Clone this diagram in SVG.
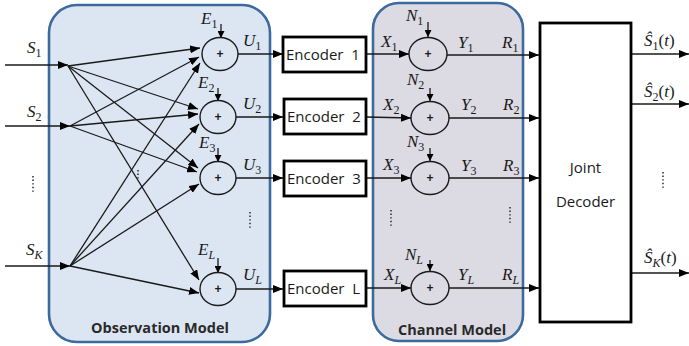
<svg xmlns="http://www.w3.org/2000/svg" width="689" height="346" viewBox="0 0 689 346">
  <style>
    .panel { stroke: #3d6a9c; stroke-width: 2.6; }
    .obs { fill: #dce6f2; }
    .chan { fill: #dcdae3; }
    .wire { stroke: #1a1a1a; stroke-width: 1.4; fill: none; }
    .fan { stroke: #1a1a1a; stroke-width: 1.3; fill: none; marker-end: url(#ah); }
    .arr { marker-end: url(#ah); }
    .sarr { stroke: #1a1a1a; stroke-width: 1.3; marker-end: url(#ahs); }
    .sum { fill: none; stroke: #1a1a1a; stroke-width: 1.4; }
    .plus { font-family: "Liberation Sans", Arial, sans-serif; font-size: 12px; font-weight: bold; fill: #1a1a1a; text-anchor: middle; }
    .box { fill: #ffffff; stroke: #000000; stroke-width: 2.8; }
    .lbl { font-family: "Open Sans", "Liberation Sans", sans-serif; font-size: 15px; fill: #1a1a1a; }
    .title { font-family: "Open Sans", "Liberation Sans", sans-serif; font-size: 14.5px; font-weight: bold; fill: #2a2a2a; text-anchor: middle; }
    .m { font-family: "Liberation Serif", "Times New Roman", serif; font-style: italic; font-size: 17px; fill: #1a1a1a; }
    .sub { font-style: normal; font-size: 12px; }
    .subi { font-size: 12px; }
    .dots { stroke: #333333; stroke-width: 1.6; stroke-dasharray: 1.4 2.2; fill: none; }
  </style>
  <defs>
    <marker id="ah" markerUnits="userSpaceOnUse" markerWidth="11" markerHeight="8" refX="10" refY="4" orient="auto">
      <path d="M0,0 L10,4 L0,8 z" fill="#000"/>
    </marker>
    <marker id="ahs" markerUnits="userSpaceOnUse" markerWidth="8" markerHeight="7" refX="7" refY="3.5" orient="auto">
      <path d="M0,0 L7,3.5 L0,7 z" fill="#000"/>
    </marker>
  </defs>

  <!-- container panels -->
  <g id="observation-model">
    <rect class="panel obs" x="49" y="5" width="221" height="337" rx="28"/>
    <text class="title" x="160" y="333">Observation Model</text>
  </g>
  <g id="channel-model">
    <rect class="panel chan" x="373" y="3" width="150" height="338" rx="26"/>
    <text class="title" x="452" y="335">Channel Model</text>
  </g>

  <!-- source inputs -->
  <g id="sources">
    <text class="m" x="27" y="53">S<tspan class="sub" dy="4">1</tspan></text>
    <text class="m" x="27" y="117">S<tspan class="sub" dy="4">2</tspan></text>
    <text class="m" x="26" y="255">S<tspan class="subi" dy="4">K</tspan></text>
    <line class="dots" x1="33" y1="176" x2="33" y2="193"/>
  </g>

  <!-- connectors -->
  <g id="connectors">
    <!-- inputs -->
    <line class="wire arr" x1="5" y1="65" x2="68" y2="65"/>
    <line class="wire arr" x1="5" y1="126" x2="70" y2="126"/>
    <line class="wire arr" x1="5" y1="266" x2="70" y2="266"/>

    <!-- observation mixing: S1 -->
    <line class="fan" x1="68" y1="66" x2="200" y2="48"/>
    <line class="fan" x1="68" y1="66" x2="198" y2="109"/>
    <line class="fan" x1="68" y1="66" x2="198" y2="168"/>
    <line class="fan" x1="68" y1="66" x2="199" y2="280"/>
    <!-- S2 -->
    <line class="fan" x1="70" y1="126" x2="199" y2="57"/>
    <line class="fan" x1="70" y1="126" x2="198" y2="114"/>
    <line class="fan" x1="70" y1="126" x2="197" y2="172"/>
    <!-- SK -->
    <line class="fan" x1="70" y1="266" x2="200" y2="63"/>
    <line class="fan" x1="70" y1="266" x2="199" y2="124"/>
    <line class="fan" x1="70" y1="266" x2="199" y2="184"/>
    <line class="fan" x1="70" y1="266" x2="199" y2="293"/>

    <!-- observation noise -->
    <line class="sarr" x1="221" y1="24" x2="221" y2="38"/>
    <line class="sarr" x1="218" y1="88" x2="218" y2="101"/>
    <line class="sarr" x1="218" y1="148" x2="218" y2="162"/>
    <line class="sarr" x1="218" y1="258" x2="218" y2="273"/>

    <!-- observations to encoders -->
    <line class="wire arr" x1="238" y1="54" x2="283" y2="54"/>
    <line class="wire arr" x1="236" y1="117" x2="283" y2="117"/>
    <line class="wire arr" x1="236" y1="178" x2="283" y2="178"/>
    <line class="wire arr" x1="236" y1="289" x2="283" y2="289"/>

    <!-- encoders to channel -->
    <line class="wire arr" x1="366" y1="54" x2="409" y2="54"/>
    <line class="wire arr" x1="366" y1="117" x2="411" y2="118"/>
    <line class="wire arr" x1="366" y1="178" x2="411" y2="178"/>
    <line class="wire arr" x1="366" y1="288" x2="411" y2="288"/>

    <!-- channel noise -->
    <line class="sarr" x1="428" y1="22" x2="428" y2="37"/>
    <line class="sarr" x1="430" y1="88" x2="430" y2="101"/>
    <line class="sarr" x1="430" y1="148" x2="430" y2="161"/>
    <line class="sarr" x1="430" y1="260" x2="430" y2="271"/>

    <!-- channel outputs to decoder -->
    <line class="wire arr" x1="447" y1="55" x2="539" y2="55"/>
    <line class="wire arr" x1="449" y1="118" x2="539" y2="118"/>
    <line class="wire arr" x1="449" y1="178" x2="539" y2="178"/>
    <line class="wire arr" x1="449" y1="288" x2="539" y2="288"/>

    <!-- estimates -->
    <line class="wire arr" x1="631" y1="54" x2="689" y2="54"/>
    <line class="wire arr" x1="631" y1="104" x2="689" y2="104"/>
    <line class="wire arr" x1="631" y1="273" x2="689" y2="273"/>
  </g>

  <!-- observation adders -->
  <g id="obs-sum-1">
    <ellipse class="sum" cx="220" cy="54" rx="18" ry="16.5"/>
    <text class="plus" x="220" y="58">+</text>
    <text class="m" x="201" y="24">E<tspan class="sub" dy="4">1</tspan></text>
    <text class="m" x="243" y="46">U<tspan class="sub" dy="4">1</tspan></text>
  </g>
  <g id="obs-sum-2">
    <ellipse class="sum" cx="218" cy="117" rx="18" ry="16.5"/>
    <text class="plus" x="218" y="121">+</text>
    <text class="m" x="198" y="88">E<tspan class="sub" dy="4">2</tspan></text>
    <text class="m" x="243" y="109">U<tspan class="sub" dy="4">2</tspan></text>
  </g>
  <g id="obs-sum-3">
    <ellipse class="sum" cx="218" cy="178" rx="18" ry="16.5"/>
    <text class="plus" x="218" y="182">+</text>
    <text class="m" x="199" y="148">E<tspan class="sub" dy="4">3</tspan></text>
    <text class="m" x="243" y="170">U<tspan class="sub" dy="4">3</tspan></text>
  </g>
  <g id="obs-sum-L">
    <ellipse class="sum" cx="218" cy="289" rx="18" ry="16.5"/>
    <text class="plus" x="218" y="293">+</text>
    <text class="m" x="198" y="255">E<tspan class="subi" dy="4">L</tspan></text>
    <text class="m" x="243" y="280">U<tspan class="subi" dy="4">L</tspan></text>
  </g>
  <g id="obs-ellipsis">
    <line class="dots" x1="138" y1="170" x2="138" y2="180"/>
    <line class="dots" x1="250" y1="212" x2="250" y2="229"/>
  </g>

  <!-- encoders -->
  <g id="encoder-1">
    <rect class="box" x="283" y="37" width="83" height="35"/>
    <text class="lbl" x="286" y="60" xml:space="preserve">Encoder  1</text>
  </g>
  <g id="encoder-2">
    <rect class="box" x="284" y="99" width="82" height="35"/>
    <text class="lbl" x="287" y="122" xml:space="preserve">Encoder  2</text>
  </g>
  <g id="encoder-3">
    <rect class="box" x="284" y="161" width="82" height="35"/>
    <text class="lbl" x="287" y="184" xml:space="preserve">Encoder  3</text>
  </g>
  <g id="encoder-L">
    <rect class="box" x="284" y="271" width="82" height="35"/>
    <text class="lbl" x="287" y="294" xml:space="preserve">Encoder  L</text>
  </g>

  <!-- channel adders -->
  <g id="chan-sum-1">
    <ellipse class="sum" cx="428" cy="54" rx="19" ry="16.5"/>
    <text class="plus" x="428" y="58">+</text>
    <text class="m" x="406" y="21">N<tspan class="sub" dy="4">1</tspan></text>
    <text class="m" x="381" y="47">X<tspan class="sub" dy="4">1</tspan></text>
    <text class="m" x="458" y="48">Y<tspan class="sub" dy="4">1</tspan></text>
    <text class="m" x="502" y="48">R<tspan class="sub" dy="4">1</tspan></text>
  </g>
  <g id="chan-sum-2">
    <ellipse class="sum" cx="430" cy="118" rx="19" ry="16.5"/>
    <text class="plus" x="430" y="122">+</text>
    <text class="m" x="407" y="85">N<tspan class="sub" dy="4">2</tspan></text>
    <text class="m" x="383" y="110">X<tspan class="sub" dy="4">2</tspan></text>
    <text class="m" x="461" y="110">Y<tspan class="sub" dy="4">2</tspan></text>
    <text class="m" x="503" y="110">R<tspan class="sub" dy="4">2</tspan></text>
  </g>
  <g id="chan-sum-3">
    <ellipse class="sum" cx="430" cy="178" rx="19" ry="16.5"/>
    <text class="plus" x="430" y="182">+</text>
    <text class="m" x="407" y="147">N<tspan class="sub" dy="4">3</tspan></text>
    <text class="m" x="383" y="170">X<tspan class="sub" dy="4">3</tspan></text>
    <text class="m" x="461" y="171">Y<tspan class="sub" dy="4">3</tspan></text>
    <text class="m" x="503" y="171">R<tspan class="sub" dy="4">3</tspan></text>
  </g>
  <g id="chan-sum-L">
    <ellipse class="sum" cx="430" cy="288" rx="19" ry="16.5"/>
    <text class="plus" x="430" y="292">+</text>
    <text class="m" x="405" y="260">N<tspan class="subi" dy="4">L</tspan></text>
    <text class="m" x="384" y="280">X<tspan class="subi" dy="4">L</tspan></text>
    <text class="m" x="458" y="280">Y<tspan class="subi" dy="4">L</tspan></text>
    <text class="m" x="502" y="280">R<tspan class="subi" dy="4">L</tspan></text>
  </g>
  <g id="chan-ellipsis">
    <line class="dots" x1="391" y1="210" x2="391" y2="226"/>
    <line class="dots" x1="510" y1="207" x2="510" y2="223"/>
  </g>

  <!-- joint decoder -->
  <g id="joint-decoder">
    <rect class="box" x="540" y="23" width="91" height="299"/>
    <text class="lbl" x="585.5" y="173" text-anchor="middle">Joint</text>
    <text class="lbl" x="585.5" y="207" text-anchor="middle">Decoder</text>
  </g>

  <!-- estimated sources -->
  <g id="estimates">
    <text class="m" x="644" y="46">Ŝ<tspan class="sub" dy="4">1</tspan><tspan font-style="normal" dy="-4">(</tspan>t<tspan font-style="normal">)</tspan></text>
    <text class="m" x="644" y="97">Ŝ<tspan class="sub" dy="4">2</tspan><tspan font-style="normal" dy="-4">(</tspan>t<tspan font-style="normal">)</tspan></text>
    <text class="m" x="644" y="263">Ŝ<tspan class="subi" dy="4">K</tspan><tspan font-style="normal" dy="-4">(</tspan>t<tspan font-style="normal">)</tspan></text>
    <line class="dots" x1="663" y1="172" x2="663" y2="190"/>
  </g>
</svg>
